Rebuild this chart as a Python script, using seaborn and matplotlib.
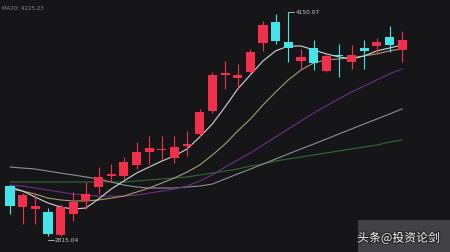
import matplotlib
matplotlib.use("Agg")
import matplotlib.pyplot as plt
import matplotlib.patheffects as pe
import seaborn as sns
import numpy as np
import pandas as pd

# ---- data ----
opens  = [3113, 2988, 2976, 2958, 2821, 2946, 3024, 3107, 3173, 3173, 3238, 3316, 3328, 3280, 3351, 3423,
          3560, 3775, 3757, 3792, 3965, 4090, 3971, 3858, 3935, 3798, 3894, 3852, 3935, 3947, 4001, 3924]
highs  = [3119, 3071, 3065, 2982, 3006, 3077, 3137, 3226, 3244, 3286, 3375, 3411, 3411, 3411, 3441, 3572,
          3792, 3858, 3840, 3930, 4096, 4138, 4150.07, 3930, 3983, 3900, 3959, 3953, 3983, 3995, 4067, 4037]
lows   = [2946, 2887, 2887, 2815.04, 2818, 2904, 2976, 3065, 3137, 3155, 3214, 3244, 3274, 3250, 3292, 3405,
          3548, 3691, 3691, 3781, 3918, 3959, 3852, 3810, 3804, 3792, 3763, 3810, 3810, 3900, 3912, 3852]
closes = [2994, 3059, 2994, 2827, 2988, 3018, 3065, 3167, 3185, 3256, 3316, 3339, 3334, 3345, 3363, 3554,
          3775, 3786, 3775, 3912, 4073, 3977, 3935, 3882, 3846, 3888, 3885, 3894, 3918, 3971, 3953, 3983]

ma5  = [3107, 3083, 3047, 3012, 2988, 2976, 2982, 3036, 3095, 3143, 3190, 3226, 3262, 3292, 3334, 3405,
        3483, 3584, 3691, 3775, 3858, 3918, 3947, 3947, 3924, 3900, 3882, 3870, 3888, 3918, 3935, 3953]
ma10 = [3095, 3083, 3065, 3041, 3030, 3024, 3024, 3030, 3041, 3053, 3077, 3101, 3131, 3161, 3196, 3238,
        3298, 3363, 3441, 3512, 3596, 3673, 3745, 3804, 3846, 3864, 3870, 3876, 3888, 3900, 3918, 3930]
ma20 = [3119, 3113, 3101, 3089, 3077, 3065, 3059, 3053, 3053, 3053, 3059, 3071, 3083, 3095, 3113, 3143,
        3179, 3226, 3268, 3310, 3357, 3405, 3453, 3500, 3548, 3590, 3632, 3673, 3709, 3745, 3781, 3810]
ma30 = [3226, 3220, 3214, 3202, 3190, 3179, 3167, 3155, 3137, 3119, 3107, 3101, 3101, 3101, 3107, 3113,
        3125, 3155, 3185, 3214, 3244, 3274, 3304, 3334, 3363, 3393, 3423, 3453, 3483, 3512, 3542, 3572]
ma60 = [3137, 3137, 3137, 3137, 3137, 3137, 3137, 3137, 3137, 3137, 3143, 3149, 3155, 3161, 3167, 3179,
        3190, 3202, 3214, 3232, 3244, 3262, 3274, 3286, 3298, 3310, 3322, 3334, 3345, 3357, 3375, 3387]

ma_label = "MA20: 4225.23"
high_label = "4150.07"
low_label = "2815.04"
watermark = "头条@投资论剑"

# ---- styling ----
BG = "#161619"
UP = "#f2304b"
DOWN = "#44e3ea"

sns.set_theme(style="dark")
plt.rcParams['font.family'] = ['Noto Sans CJK SC', 'DejaVu Sans']

fig = plt.figure(figsize=(4.5, 2.53), dpi=100, facecolor=BG)
ax = fig.add_axes([0, 0, 1, 1])
ax.set_facecolor(BG)

n = len(opens)
idx = np.arange(n)

# moving average lines via seaborn
ma_df = pd.DataFrame({"i": idx, "MA5": ma5, "MA10": ma10, "MA20": ma20, "MA30": ma30, "MA60": ma60})
ma_colors = {"MA60": "#2f6a38", "MA30": "#8e8e94", "MA20": "#6e2f82", "MA10": "#a89a6e", "MA5": "#d4d4d8"}
for name in ["MA60", "MA30", "MA20", "MA10", "MA5"]:
    sns.lineplot(data=ma_df, x="i", y=name, ax=ax, color=ma_colors[name], linewidth=0.8, zorder=2)

# candles
for i in range(n):
    o, h, l, c = opens[i], highs[i], lows[i], closes[i]
    col = UP if c >= o else DOWN
    ax.vlines(i, l, h, color=col, linewidth=0.8, zorder=3)
    bottom = min(o, c)
    height = max(abs(c - o), 6)
    ax.bar(i, height, bottom=bottom, width=0.72, color=col, edgecolor=col, linewidth=0, zorder=4)

# high / low markers
hi_i = int(np.argmax(highs))
lo_i = int(np.argmin(lows))
ax.plot([hi_i, hi_i + 0.45], [highs[hi_i], highs[hi_i]], color="#c8c8c8", linewidth=0.6, zorder=5)
ax.text(hi_i + 0.55, highs[hi_i], high_label, color="#c8c8c8", fontsize=4.2,
        va="center", ha="left", family=['DejaVu Sans'], zorder=5)
ax.plot([lo_i, lo_i + 0.45], [lows[lo_i] - 22, lows[lo_i] - 22], color="#c8c8c8", linewidth=0.6, zorder=5)
ax.text(lo_i + 0.55, lows[lo_i] - 22, low_label, color="#c8c8c8", fontsize=4.2,
        va="center", ha="left", family=['DejaVu Sans'], zorder=5)

ax.set_xlim(-0.79, 34.78)
ax.set_ylim(2720, 4227)
ax.set_xlabel("")
ax.set_ylabel("")
ax.set_xticks([])
ax.set_yticks([])
for s in ax.spines.values():
    s.set_visible(False)
ax.grid(False)
leg = ax.get_legend()
if leg:
    leg.remove()

# top-left MA label
fig.text(0.005, 0.978, ma_label, color="#8a8a90", fontsize=4.0, ha="left", va="top",
         family=['DejaVu Sans'])

# watermark
fig.patches.append(plt.Rectangle((0.795, 0.0), 0.205, 0.125, transform=fig.transFigure,
                                 facecolor="#6e6e74", edgecolor="none", alpha=0.5, zorder=6))
fig.text(0.885, 0.055, watermark, color="white", fontsize=8.6, ha="center", va="center", zorder=7,
         path_effects=[pe.withStroke(linewidth=1.5, foreground="#202020")])

fig.savefig("out.png", dpi=100, facecolor=BG)
